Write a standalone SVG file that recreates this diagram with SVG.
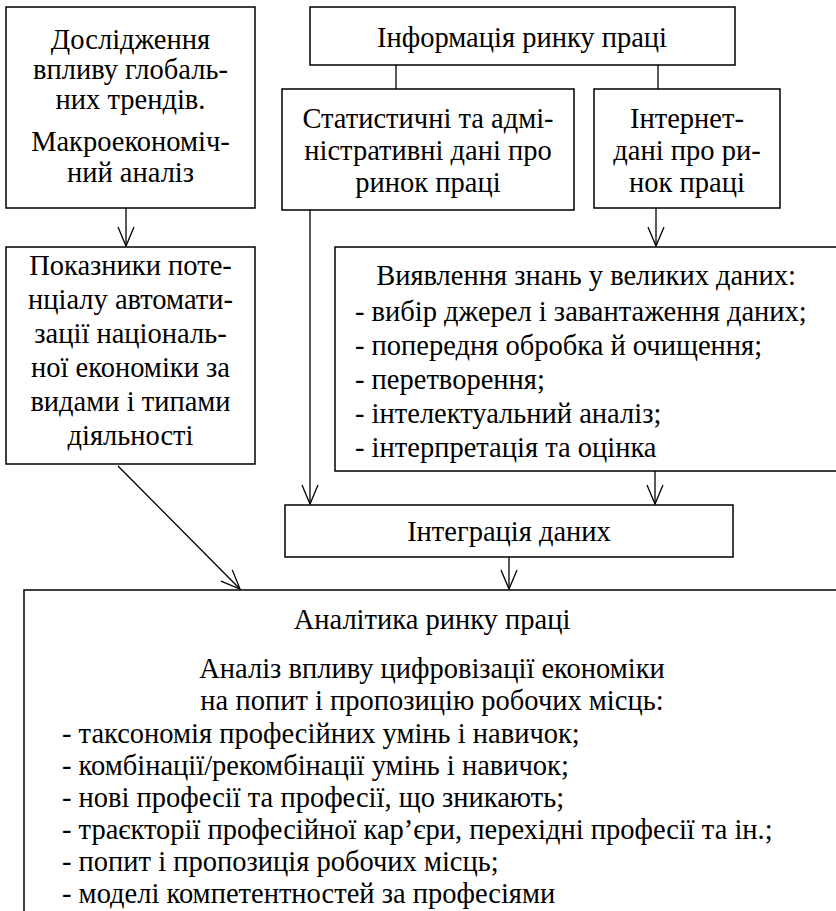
<svg xmlns="http://www.w3.org/2000/svg" width="836" height="911" viewBox="0 0 836 911">
  <defs>
    <style>
      .box { fill: #fff; stroke: #000; stroke-width: 1.5; }
      .t { font-family: "Liberation Serif", "Times New Roman", serif; font-size: 28.5px; fill: #000; }
      .c { text-anchor: middle; }
      .edge { fill: none; stroke: #000; stroke-width: 1.3; }
    </style>
    <marker id="vee" markerUnits="userSpaceOnUse" markerWidth="24" markerHeight="20" viewBox="-21 -10 22 20" refX="0" refY="0" orient="auto">
      <path d="M-19,-8 L0,0 L-19,8" fill="none" stroke="#000" stroke-width="1.3"/>
    </marker>
  </defs>
  <rect width="836" height="911" fill="#fff"/>

  <!-- connectors -->
  <g id="connectors">
    <line class="edge" x1="396" y1="65" x2="396" y2="89"/>
    <line class="edge" x1="658" y1="65" x2="658" y2="89"/>
    <line class="edge" x1="126" y1="208" x2="126" y2="246" marker-end="url(#vee)"/>
    <line class="edge" x1="656" y1="208" x2="656" y2="246" marker-end="url(#vee)"/>
    <line class="edge" x1="310" y1="210" x2="310" y2="504" marker-end="url(#vee)"/>
    <line class="edge" x1="655" y1="471" x2="655" y2="504" marker-end="url(#vee)"/>
    <line class="edge" x1="118" y1="466" x2="240" y2="589" marker-end="url(#vee)"/>
    <line class="edge" x1="509" y1="557" x2="509" y2="589" marker-end="url(#vee)"/>
  </g>

  <!-- global trends -->
  <g id="trends">
    <rect class="box" x="6" y="7" width="249" height="201"/>
    <text class="t c" x="130.5" y="49">Дослідження</text>
    <text class="t c" x="130.5" y="79">впливу глобаль-</text>
    <text class="t c" x="130.5" y="109">них трендів.</text>
    <text class="t c" x="130.5" y="151">Макроекономіч-</text>
    <text class="t c" x="130.5" y="182">ний аналіз</text>
  </g>

  <!-- automation indicators -->
  <g id="automation">
    <rect class="box" x="6" y="247" width="249" height="217"/>
    <text class="t c" x="130.5" y="275">Показники поте-</text>
    <text class="t c" x="130.5" y="309">нціалу автомати-</text>
    <text class="t c" x="130.5" y="343">зації національ-</text>
    <text class="t c" x="130.5" y="377">ної економіки за</text>
    <text class="t c" x="130.5" y="411">видами і типами</text>
    <text class="t c" x="130.5" y="445">діяльності</text>
  </g>

  <!-- labour market information -->
  <g id="lmi">
    <rect class="box" x="310" y="7" width="425" height="58"/>
    <text class="t c" x="522" y="47">Інформація ринку праці</text>
  </g>

  <!-- statistical and administrative data -->
  <g id="stat">
    <rect class="box" x="282" y="89" width="292" height="121"/>
    <text class="t c" x="428" y="128">Статистичні та адмі-</text>
    <text class="t c" x="428" y="160">ністративні дані про</text>
    <text class="t c" x="428" y="192">ринок праці</text>
  </g>

  <!-- internet data -->
  <g id="internet">
    <rect class="box" x="594" y="89" width="186" height="119"/>
    <text class="t c" x="687" y="128">Інтернет-</text>
    <text class="t c" x="687" y="160">дані про ри-</text>
    <text class="t c" x="687" y="192">нок праці</text>
  </g>

  <!-- knowledge discovery -->
  <g id="kdd">
    <rect class="box" x="335" y="247" width="510" height="224"/>
    <text class="t c" x="586" y="285">Виявлення знань у великих даних:</text>
    <text class="t" x="355" y="321">- вибір джерел і завантаження даних;</text>
    <text class="t" x="355" y="355">- попередня обробка й очищення;</text>
    <text class="t" x="355" y="389">- перетворення;</text>
    <text class="t" x="355" y="423">- інтелектуальний аналіз;</text>
    <text class="t" x="355" y="457">- інтерпретація та оцінка</text>
  </g>

  <!-- data integration -->
  <g id="integration">
    <rect class="box" x="285" y="505" width="448" height="52"/>
    <text class="t c" x="509" y="541">Інтеграція даних</text>
  </g>

  <!-- labour market analytics -->
  <g id="analytics">
    <rect class="box" x="24" y="590" width="826" height="340"/>
    <text class="t c" x="432" y="629">Аналітика ринку праці</text>
    <text class="t c" x="432" y="678">Аналіз впливу цифровізації економіки</text>
    <text class="t c" x="432" y="710">на попит і пропозицію робочих місць:</text>
    <text class="t" x="62" y="743">- таксономія професійних умінь і навичок;</text>
    <text class="t" x="62" y="775">- комбінації/рекомбінації умінь і навичок;</text>
    <text class="t" x="62" y="807">- нові професії та професії, що зникають;</text>
    <text class="t" x="62" y="839">- траєкторії професійної кар’єри, перехідні професії та ін.;</text>
    <text class="t" x="62" y="871">- попит і пропозиція робочих місць;</text>
    <text class="t" x="62" y="903">- моделі компетентностей за професіями</text>
  </g>
</svg>
